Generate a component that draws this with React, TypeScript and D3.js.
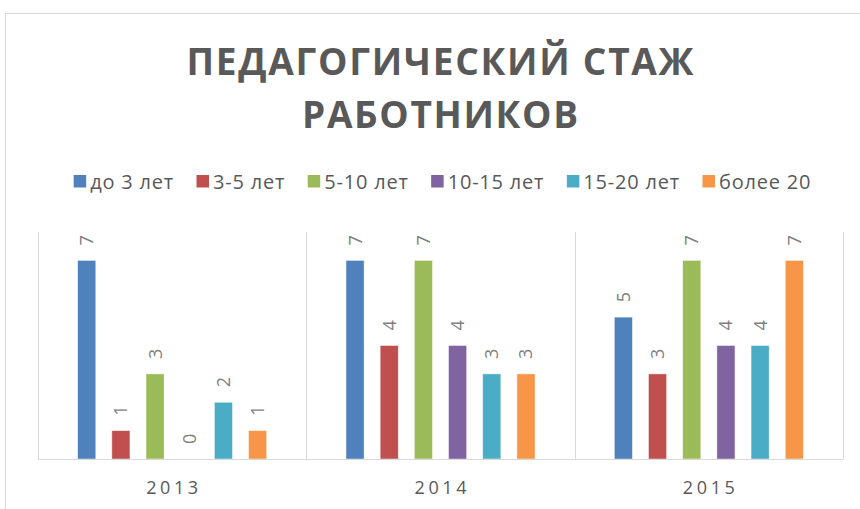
import React, { useEffect, useRef } from 'react';
import * as d3 from 'd3';

// chart data
const years = ['2013', '2014', '2015'];
const seriesNames = ['до 3 лет', '3-5 лет', '5-10 лет', '10-15 лет', '15-20 лет', 'более 20'];
const seriesColors = ['#4F81BD', '#C0504D', '#9BBB59', '#8064A2', '#4BACC6', '#F79646'];
const values2013 = [7, 1, 3, 0, 2, 1];
const values2014 = [7, 4, 7, 4, 3, 3];
const values2015 = [5, 3, 7, 4, 4, 7];
const titleLines = ['ПЕДАГОГИЧЕСКИЙ СТАЖ', 'РАБОТНИКОВ'];

const W = 860;
const H = 509;

const App: React.FC = () => {
  const svgRef = useRef<SVGSVGElement>(null);

  useEffect(() => {
    if (!svgRef.current) return;
    const svg = d3.select(svgRef.current);
    svg.selectAll('*').remove();

    const font = '"Open Sans", "DejaVu Sans", sans-serif';
    const valuesByYear = [values2013, values2014, values2015];

    // chart area border (runs off the picture on the right and bottom)
    svg.append('rect')
      .attr('x', 5.5).attr('y', 13.5)
      .attr('width', 870).attr('height', 510)
      .attr('fill', '#fff')
      .attr('stroke', '#d9d9d9');

    // title
    const titleWidths = [507, 276];
    svg.append('g')
      .selectAll('text')
      .data(titleLines)
      .join('text')
        .attr('x', 440)
        .attr('y', (_, i) => 75 + i * 53)
        .attr('text-anchor', 'middle')
        .attr('font-family', font)
        .attr('font-weight', 700)
        .attr('font-size', 37)
        .attr('fill', '#595959')
        .attr('textLength', (_, i) => titleWidths[i])
        .attr('lengthAdjust', 'spacing')
        .text(d => d);

    // plot area
    const plot = { left: 38, right: 843, top: 232, bottom: 459 };

    const x0 = d3.scaleBand<string>()
      .domain(years)
      .range([plot.left, plot.right])
      .padding(0);

    const x1 = d3.scaleBand<string>()
      .domain(seriesNames)
      .range([0, x0.bandwidth()])
      .paddingInner(0.47)
      .paddingOuter(1.16);

    const y = d3.scaleLinear()
      .domain([0, 8])
      .range([plot.bottom, plot.top]);

    const color = d3.scaleOrdinal<string, string>()
      .domain(seriesNames)
      .range(seriesColors);

    // vertical category separators
    const gridX = years.map(yr => x0(yr) as number).concat([plot.right]);
    svg.append('g')
      .selectAll('line')
      .data(gridX)
      .join('line')
        .attr('x1', d => Math.round(d) + 0.5)
        .attr('x2', d => Math.round(d) + 0.5)
        .attr('y1', plot.top)
        .attr('y2', plot.bottom)
        .attr('stroke', '#d9d9d9');

    // bars
    const groups = svg.append('g')
      .selectAll('g')
      .data(years)
      .join('g')
        .attr('transform', d => `translate(${x0(d)},0)`);

    groups.selectAll('rect')
      .data((yr, i) => seriesNames.map((s, j) => ({ s, v: valuesByYear[i][j] })))
      .join('rect')
        .attr('x', d => x1(d.s) as number)
        .attr('y', d => y(d.v))
        .attr('width', x1.bandwidth())
        .attr('height', d => y(0) - y(d.v))
        .attr('fill', d => color(d.s))
        .attr('stroke', '#fff')
        .attr('stroke-opacity', 0.6)
        .attr('stroke-width', 0.75);

    // data labels, rotated
    groups.selectAll('text')
      .data((yr, i) => seriesNames.map((s, j) => ({ s, v: valuesByYear[i][j] })))
      .join('text')
        .attr('transform', d => `translate(${(x1(d.s) as number) + x1.bandwidth() / 2},${y(d.v) - 15}) rotate(-90)`)
        .attr('dy', '0.36em')
        .attr('font-family', font)
        .attr('font-size', 18)
        .attr('fill', '#7f7f7f')
        .text(d => d.v);

    // baseline
    svg.append('line')
      .attr('x1', plot.left).attr('x2', plot.right)
      .attr('y1', plot.bottom + 0.5).attr('y2', plot.bottom + 0.5)
      .attr('stroke', '#d9d9d9');

    // category labels
    const spacing = 3.6;
    svg.append('g')
      .selectAll('text')
      .data(years)
      .join('text')
        .attr('x', d => (x0(d) as number) + x0.bandwidth() / 2 + spacing / 2)
        .attr('y', 494)
        .attr('text-anchor', 'middle')
        .attr('font-family', font)
        .attr('font-size', 18)
        .attr('letter-spacing', spacing)
        .attr('fill', '#595959')
        .text(d => d);

    // legend
    const legend = svg.append('g');
    const items = legend.selectAll('g')
      .data(seriesNames)
      .join('g');
    const sq = 12.5;
    const sqGap = 4;
    items.append('rect')
      .attr('width', sq).attr('height', sq)
      .attr('y', 175)
      .attr('fill', d => color(d));
    const labels = items.append('text')
      .attr('x', sq + sqGap)
      .attr('y', 189)
      .attr('font-family', font)
      .attr('font-size', 20)
      .attr('letter-spacing', 0.8)
      .attr('fill', '#595959')
      .text(d => d);

    const widths = labels.nodes().map(n => (n as SVGTextElement).getComputedTextLength());
    const gap = 22.5;
    const itemW = widths.map(w => sq + sqGap + w);
    const total = d3.sum(itemW) + gap * (itemW.length - 1);
    let cx = 442.5 - total / 2;
    const offsets: number[] = [];
    itemW.forEach(w => { offsets.push(cx); cx += w + gap; });
    items.attr('transform', (_, i) => `translate(${offsets[i]},0)`);
  }, []);

  return (
    <div style={{ position: 'absolute', left: 0, top: 0 }}>
      <svg ref={svgRef} width={W} height={H} style={{ display: 'block' }} />
    </div>
  );
};

export default App;
